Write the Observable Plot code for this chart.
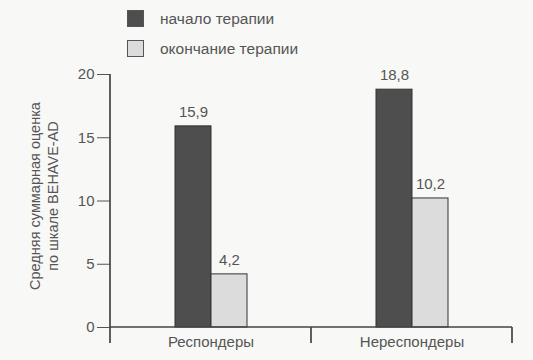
<!DOCTYPE html>
<html><head><meta charset="utf-8">
<script src="https://cdn.jsdelivr.net/npm/d3@7"></script>
<script src="https://cdn.jsdelivr.net/npm/@observablehq/plot@0.6"></script>
<style>
body{margin:0;background:#f8f8f6;font-family:"Liberation Sans",Arial,sans-serif;}
#wrap{position:relative;width:533px;height:360px;overflow:hidden;}
#legend{position:absolute;left:127px;top:10px;}
.item{display:flex;align-items:center;height:17px;margin-bottom:13px;font-size:15.5px;color:#555;}
.sw{width:17px;height:17px;box-sizing:border-box;border:1px solid #555;margin-right:16px;}
#ylab{position:absolute;left:-84px;top:176px;width:260px;height:40px;transform:rotate(-90deg);
  text-align:center;font-size:14.5px;line-height:18px;color:#555;white-space:nowrap;}
</style></head><body>
<div id="wrap"><div id="chart"></div><div id="legend"></div><div id="ylab"></div></div>
<script>
const groups = ["Респондеры", "Нереспондеры"];
const series = ["начало терапии", "окончание терапии"];
const startValues = [15.9, 18.8];
const endValues = [4.2, 10.2];
const yTicks = [0, 5, 10, 15, 20];
const yLabel = ["Средняя суммарная оценка", "по шкале BEHAVE-AD"];
const colors = ["#4e4e4e", "#dcdcdc"];
const axisColor = "#444";

const data = [];
groups.forEach((g, i) => {
  data.push({group: g, series: series[0], value: startValues[i]});
  data.push({group: g, series: series[1], value: endValues[i]});
});
const fmt = v => String(v).replace(".", ",");

const chart = Plot.plot({
  width: 533,
  height: 360,
  marginTop: 74,
  marginBottom: 33,
  marginLeft: 109,
  marginRight: 21,
  style: {background: "transparent", color: "#555", fontSize: "15px", fontFamily: "'Liberation Sans', Arial, sans-serif"},
  fx: {domain: groups, padding: 0, label: null, tickSize: 0, tickPadding: 9, axis: "bottom"},
  x: {domain: series, paddingInner: 0, paddingOuter: 1.72, axis: null},
  y: {domain: [0, 20], ticks: yTicks, label: null, tickSize: 13, tickPadding: 3, tickFormat: d => String(d)},
  color: {domain: series, range: colors},
  marks: [
    Plot.barY(data, {fx: "group", x: "series", y: "value", fill: "series", stroke: "#333", strokeWidth: 1}),
    Plot.text(data, {fx: "group", x: "series", y: "value", text: d => fmt(d.value), dy: -14, fill: "#555", fontSize: 15}),
    Plot.frame({
      facet: "super",
      render: (index, scales) => {
        const {fx, y} = scales;
        const y0 = y(0), yTop = y(d3.max(yTicks));
        const x0 = fx(groups[0]);
        const xEnd = fx(groups[groups.length - 1]) + fx.bandwidth();
        const g = d3.create("svg:g").attr("stroke", axisColor).attr("stroke-width", 1.7).attr("fill", "none");
        g.append("line").attr("x1", x0).attr("x2", x0).attr("y1", yTop).attr("y2", y0 + 16);
        g.append("line").attr("x1", x0).attr("x2", xEnd).attr("y1", y0).attr("y2", y0);
        for (const name of groups) {
          const xr = fx(name) + fx.bandwidth();
          g.append("line").attr("x1", xr).attr("x2", xr).attr("y1", y0).attr("y2", y0 + 16);
        }
        return g.node();
      }
    })
  ]
});
document.getElementById("chart").append(chart);

const legend = document.getElementById("legend");
series.forEach((s, i) => {
  const item = document.createElement("div");
  item.className = "item";
  const sw = document.createElement("span");
  sw.className = "sw";
  sw.style.background = colors[i];
  item.append(sw, document.createTextNode(s));
  legend.append(item);
});
document.getElementById("ylab").innerHTML = yLabel.join("<br>");
</script>
</body></html>
